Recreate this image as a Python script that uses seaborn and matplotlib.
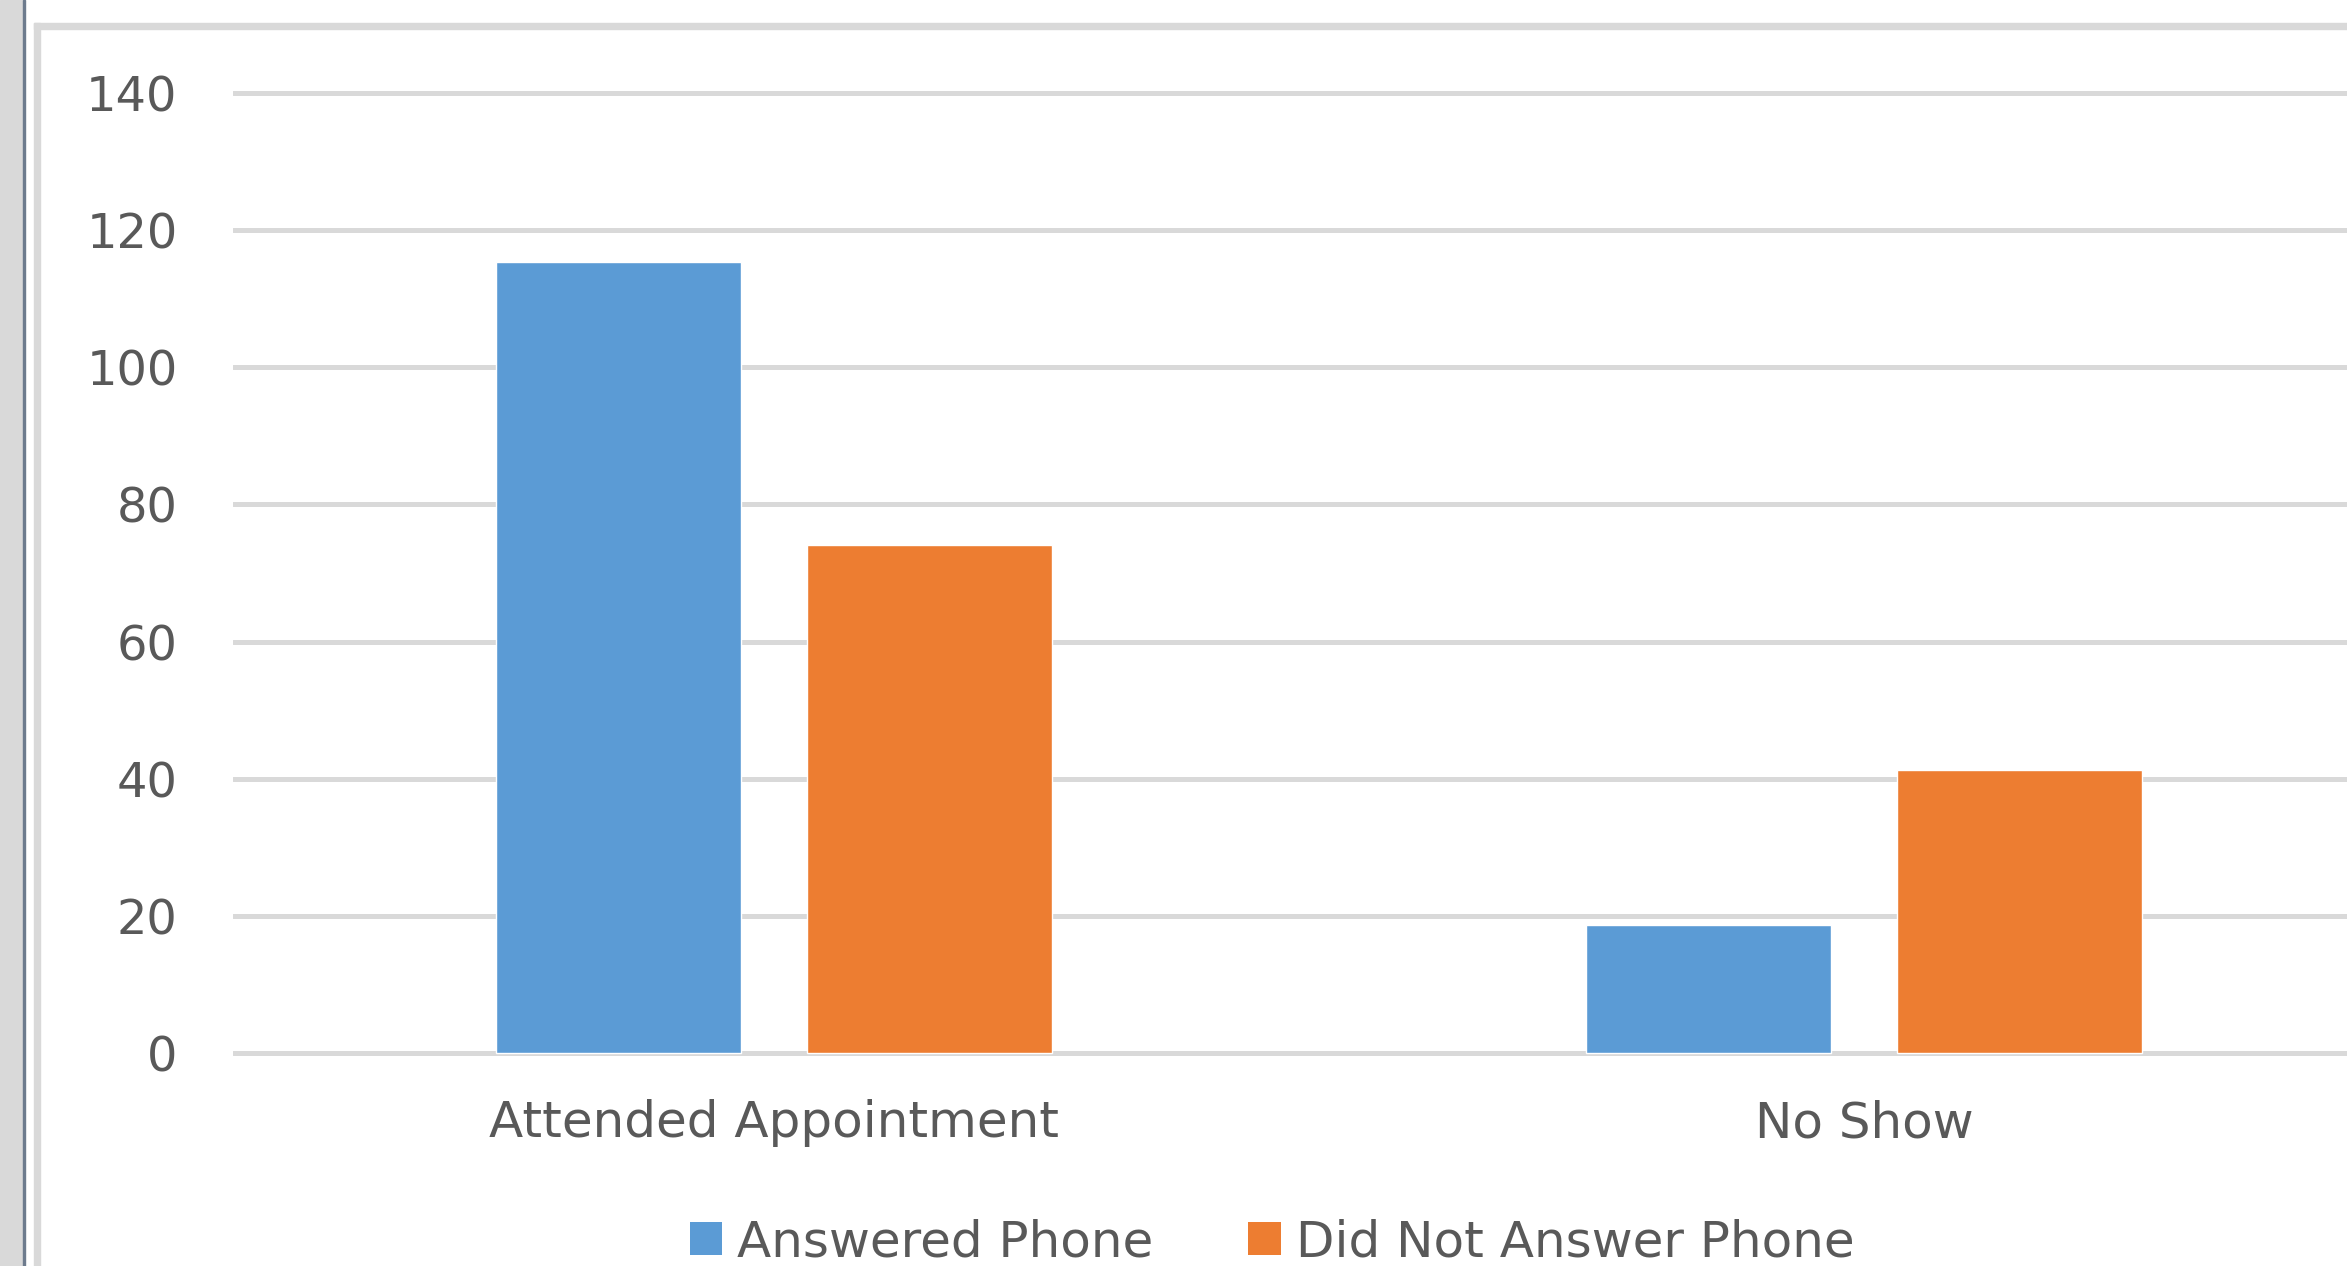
import pandas as pd
import matplotlib.pyplot as plt
import seaborn as sns
from matplotlib.patches import Rectangle, Patch

categories = ["Attended Appointment", "No Show"]
series = ["Answered Phone", "Did Not Answer Phone"]
answered = [115.3, 18.7]
not_answered = [74.1, 41.2]
colors = ["#5B9BD5", "#ED7D31"]
y_ticks = [0, 20, 40, 60, 80, 100, 120, 140]

df = pd.DataFrame({
    "Outcome": categories * 2,
    "Response": [series[0]] * 2 + [series[1]] * 2,
    "Count": answered + not_answered,
})

sns.set_style("white")
plt.rcParams["font.family"] = ["DejaVu Sans"]

W, H = 2347, 1266
fig = plt.figure(figsize=(W / 100, H / 100), dpi=100)
fig.patch.set_facecolor("white")

# window chrome / chart frame around the plot
fig.patches.append(Rectangle((0, 0), 23 / W, 1, transform=fig.transFigure, color="#D9D9D9", zorder=0))
fig.patches.append(Rectangle((23 / W, 0), 2 / W, 1, transform=fig.transFigure, color="#6D7B8D", zorder=0))
fig.patches.append(Rectangle((34 / W, 0), 6 / W, 1 - 23 / H, transform=fig.transFigure, color="#D9D9D9", zorder=0))
fig.patches.append(Rectangle((34 / W, 1 - 29 / H), 1, 6 / H, transform=fig.transFigure, color="#D9D9D9", zorder=0))

ax = fig.add_axes([233 / W, 0.1656, 1 - 233 / W, 0.932 - 0.1656])
sns.barplot(data=df, x="Outcome", y="Count", hue="Response", hue_order=series,
            palette=colors, width=0.571, gap=0.215, saturation=1, ax=ax, legend=False)

ax.set_xlim(-0.4963, 1.4431)
ax.set_ylim(-0.5, 141)
ax.set_yticks(y_ticks)
ax.set_yticklabels([str(t) for t in y_ticks])
ax.grid(axis="y", color="#D9D9D9", linewidth=3.6)
ax.set_axisbelow(True)
ax.tick_params(axis="both", length=0, labelcolor="#595959")
ax.tick_params(axis="y", pad=40, labelsize=34.5)
ax.tick_params(axis="x", pad=31, labelsize=36)
ax.set_xlabel("")
ax.set_ylabel("")
for s in ax.spines.values():
    s.set_visible(False)

# legend sits at the very bottom edge, as in the screenshot
handles = [Patch(facecolor=c, edgecolor="none") for c in colors]
fig.legend(handles, series, loc="lower center", bbox_to_anchor=(0.542, -0.02), ncol=2,
           frameon=False, fontsize=36, labelcolor="#595959", borderpad=0,
           handlelength=0.65, handleheight=0.65, handletextpad=0.3, columnspacing=1.9)

fig.savefig("out.png", dpi=100)
